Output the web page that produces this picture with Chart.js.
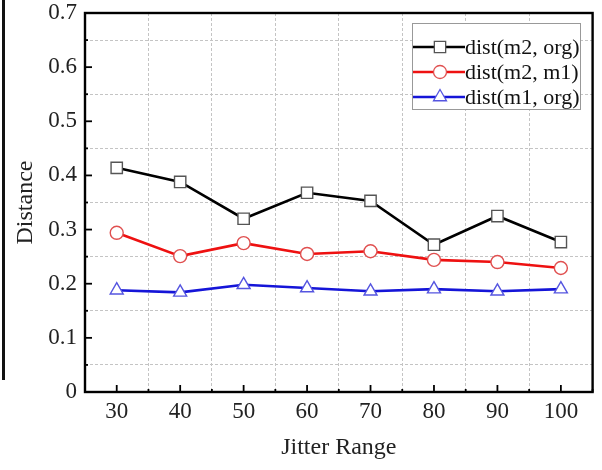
<!DOCTYPE html>
<html>
<head>
<meta charset="utf-8">
<script src="https://cdn.jsdelivr.net/npm/chart.js@4"></script>
<style>
    html, body { margin: 0; padding: 0; background: #fff; }
    #wrap { position: relative; width: 602px; height: 470px; }
    #edge { position: absolute; left: 2px; top: 0; width: 3px; height: 380px; background: #111; }
</style>
</head>
<body>
<div id="wrap">
    <canvas id="distChart" width="602" height="470"></canvas>
    <div id="edge"></div>
</div>
<script>
// Data
const jitterRange = [30, 40, 50, 60, 70, 80, 90, 100];
const distM2Org = [0.414, 0.388, 0.320, 0.368, 0.353, 0.272, 0.325, 0.277];
const distM2M1 = [0.294, 0.251, 0.275, 0.255, 0.260, 0.244, 0.240, 0.229];
const distM1Org = [0.188, 0.184, 0.198, 0.192, 0.186, 0.190, 0.186, 0.190];
const seriesLabels = ['dist(m2, org)', 'dist(m2, m1)', 'dist(m1, org)'];
const xTicks = [30, 40, 50, 60, 70, 80, 90, 100];
const yTicks = [0, 0.1, 0.2, 0.3, 0.4, 0.5, 0.6, 0.7];

const FONT = "'Liberation Serif', 'DejaVu Serif', serif";
const gridGray = '#c4c4c4';

function toPoints(values) {
    return jitterRange.map((x, i) => ({ x: x, y: values[i] }));
}

// Frame, inward ticks and in-plot legend
const framePlugin = {
    id: 'frame',
    afterDraw(chart) {
        const ctx = chart.ctx;
        const area = chart.chartArea;
        const xs = chart.scales.x;
        const ys = chart.scales.y;
        ctx.save();
        ctx.strokeStyle = '#000';
        ctx.lineWidth = 1.8;
        // x ticks (major at labels, minor in between)
        for (let v = 25; v <= 105; v += 5) {
            const px = xs.getPixelForValue(v);
            const len = xTicks.includes(v) ? 7 : 3;
            ctx.beginPath();
            ctx.moveTo(px, area.bottom);
            ctx.lineTo(px, area.bottom - len);
            ctx.stroke();
        }
        for (let i = 0; i <= 14; i++) {
            const py = ys.getPixelForValue(i * 0.05);
            const len = i % 2 === 0 ? 7 : 3;
            ctx.beginPath();
            ctx.moveTo(area.left, py);
            ctx.lineTo(area.left + len, py);
            ctx.stroke();
        }
        ctx.lineWidth = 2.4;
        ctx.strokeRect(area.left, area.top, area.right - area.left, area.bottom - area.top);

        // legend box
        const bx = 412, by = 23, bw = 168, bh = 86;
        ctx.fillStyle = '#fff';
        ctx.fillRect(bx, by, bw, bh);
        ctx.strokeStyle = '#999';
        ctx.lineWidth = 1;
        ctx.strokeRect(bx + 0.5, by + 0.5, bw, bh);
        ctx.font = '22px ' + FONT;
        ctx.textBaseline = 'middle';
        chart.data.datasets.forEach((ds, i) => {
            const y = by + 24 + i * 25;
            ctx.strokeStyle = ds.borderColor;
            ctx.lineWidth = 2.4;
            ctx.beginPath();
            ctx.moveTo(bx + 1, y);
            ctx.lineTo(bx + 53, y);
            ctx.stroke();
            ctx.fillStyle = '#fff';
            ctx.strokeStyle = ds.pointBorderColor;
            ctx.lineWidth = 1.3;
            Chart.helpers.drawPoint(ctx, { pointStyle: ds.pointStyle, radius: ds.pointRadius, borderWidth: 1.3 }, bx + 28, y);
            ctx.fillStyle = '#111';
            ctx.fillText(ds.label, bx + 53, y + 1);
        });
        ctx.restore();
    }
};

const ctx = document.getElementById('distChart').getContext('2d');
const distChart = new Chart(ctx, {
    type: 'line',
    data: {
        datasets: [{
            label: seriesLabels[0],
            data: toPoints(distM2Org),
            borderColor: '#000',
            borderWidth: 2.6,
            pointStyle: 'rect',
            pointRadius: 8,
            pointBorderColor: '#555',
            pointBackgroundColor: '#fff',
            pointBorderWidth: 1.4
        }, {
            label: seriesLabels[1],
            data: toPoints(distM2M1),
            borderColor: '#ee1111',
            borderWidth: 2.6,
            pointStyle: 'circle',
            pointRadius: 6.5,
            pointBorderColor: '#e05050',
            pointBackgroundColor: '#fff',
            pointBorderWidth: 1.4
        }, {
            label: seriesLabels[2],
            data: toPoints(distM1Org),
            borderColor: '#1515d8',
            borderWidth: 2.6,
            pointStyle: 'triangle',
            pointRadius: 7.5,
            pointBorderColor: '#5555e0',
            pointBackgroundColor: '#fff',
            pointBorderWidth: 1.4
        }]
    },
    options: {
        responsive: false,
        animation: false,
        layout: { padding: { top: 13, right: 9, left: 0, bottom: 0 } },
        plugins: {
            legend: { display: false },
            tooltip: { enabled: false }
        },
        scales: {
            x: {
                type: 'linear',
                min: 25,
                max: 105,
                afterFit: scale => {
                    scale.height = 78;
                    scale.paddingLeft = 0;
                    scale.paddingRight = 0;
                },
                afterBuildTicks: scale => {
                    const t = [];
                    for (let v = 25; v <= 105; v += 5) t.push({ value: v });
                    scale.ticks = t;
                },
                ticks: {
                    autoSkip: false,
                    maxRotation: 0,
                    padding: 6,
                    color: '#222',
                    font: { family: FONT, size: 23 },
                    callback: v => xTicks.includes(v) ? String(v) : ''
                },
                grid: {
                    drawTicks: false,
                    color: c => (c.tick && c.tick.value % 10 === 5) ? gridGray : 'transparent',
                    lineWidth: 1
                },
                border: { display: false, dash: [3, 2] },
                title: {
                    display: true,
                    text: 'Jitter Range',
                    color: '#222',
                    font: { family: FONT, size: 24 },
                    padding: { top: 0, bottom: 8 }
                }
            },
            y: {
                min: 0,
                max: 0.7,
                afterFit: scale => {
                    scale.width = 85;
                    scale.paddingTop = 0;
                    scale.paddingBottom = 0;
                },
                afterBuildTicks: scale => {
                    const t = [];
                    for (let i = 0; i <= 14; i++) t.push({ value: i * 0.05 });
                    scale.ticks = t;
                },
                ticks: {
                    autoSkip: false,
                    padding: 8,
                    color: '#222',
                    font: { family: FONT, size: 23 },
                    callback: function(v) {
                        const match = yTicks.find(t => Math.abs(t - v) < 1e-6);
                        return match === undefined ? '' : String(match);
                    }
                },
                grid: {
                    drawTicks: false,
                    color: c => (c.tick && Math.round(c.tick.value * 100) % 10 === 5) ? gridGray : 'transparent',
                    lineWidth: 1
                },
                border: { display: false, dash: [3, 2] },
                title: {
                    display: true,
                    text: 'Distance',
                    color: '#222',
                    font: { family: FONT, size: 24 },
                    padding: { top: 11, bottom: 0 }
                }
            }
        }
    },
    plugins: [framePlugin]
});
</script>
</body>
</html>
